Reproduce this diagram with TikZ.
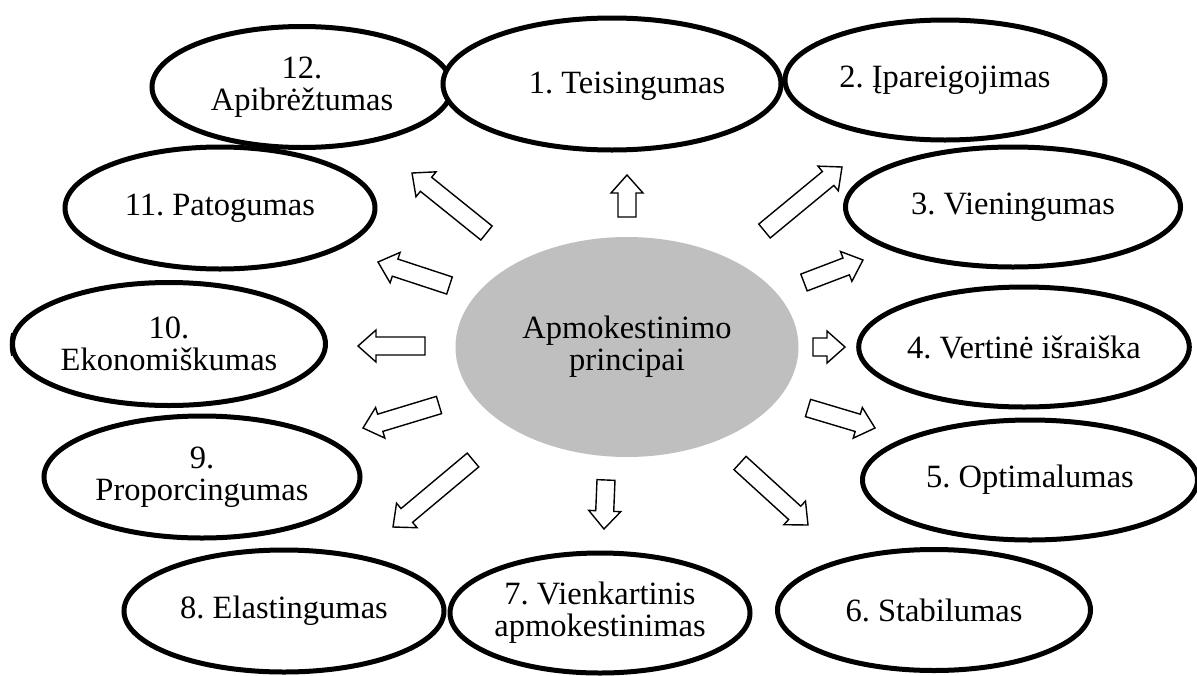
\documentclass[tikz,border=0pt]{standalone}
\usepackage{fontspec}
\setmainfont{Liberation Serif}
\usetikzlibrary{shapes.geometric,calc}

\definecolor{hubgray}{RGB}{191,191,191}

\tikzset{
  labelfont/.style={font=\fontsize{32.5}{32}\selectfont\frenchspacing},
  principle/.style={ellipse, draw=black, line width=5pt, fill=white,
    inner sep=0pt, align=center, labelfont},
  hub/.style={ellipse, fill=hubgray, draw=none, inner sep=0pt,
    align=center, labelfont},
  plain/.style={inner sep=0pt, align=center, labelfont},
  arrowline/.style={draw=black, line width=1.4pt, fill=white, line join=miter}
}

% hollow block arrow from tail coordinate #1 to tip coordinate #2
\newcommand\blockarrow[2]{%
  \coordinate (hb) at ($(#2)!18pt!(#1)$);
  \path[arrowline]
    ($(#1)!9pt!90:(#2)$) -- ($(hb)!9pt!90:(#2)$) -- ($(hb)!16pt!90:(#2)$)
    -- (#2)
    -- ($(hb)!16pt!-90:(#2)$) -- ($(hb)!9pt!-90:(#2)$) -- ($(#1)!9pt!-90:(#2)$)
    -- cycle;
}

\begin{document}
\begin{tikzpicture}[x=1pt,y=-1pt]
\useasboundingbox (0,0) rectangle (1197,675);

% principles around the hub
\node[principle, minimum width=300pt, minimum height=121pt] (p12) at (302,87) {12.\\Apibrėžtumas};
\node[principle, minimum width=338pt, minimum height=132pt] (p1) at (612,84) {};
\node[plain] (p1t) at (627,86) {1. Teisingumas};
\node[principle, minimum width=320pt, minimum height=120pt] (p2) at (945,80) {2. Įpareigojimas};
\node[principle, minimum width=335pt, minimum height=120pt] (p3) at (1013,207) {3. Vieningumas};
\node[principle, minimum width=330pt, minimum height=120pt] (p4) at (1024,347) {4. Vertinė išraiška};
\node[principle, minimum width=335pt, minimum height=120pt] (p5) at (1030,480) {5. Optimalumas};
\node[principle, minimum width=313pt, minimum height=121pt] (p6) at (934,610) {6. Stabilumas};
\node[principle, minimum width=300pt, minimum height=120pt] (p7) at (600,613) {7. Vienkartinis\\apmokestinimas};
\node[principle, minimum width=320pt, minimum height=122pt] (p8) at (284,611) {8. Elastingumas};
\node[principle, minimum width=316pt, minimum height=122pt] (p9) at (202,477) {9.\\Proporcingumas};
\draw[line width=1.5pt] (12,333) .. controls (10,340) and (10,349) .. (12,356);
\node[principle, minimum width=313pt, minimum height=123pt] (p10) at (169,344) {10.\\Ekonomiškumas};
\node[principle, minimum width=310pt, minimum height=122pt] (p11) at (220,208) {11. Patogumas};

% central hub
\node[hub, minimum width=343pt, minimum height=220pt] (hub) at (627,347) {Apmokestinimo\\principai};

% arrow tails and tips
\coordinate (t1) at (627,217);   \coordinate (h1) at (627,175);
\coordinate (t2) at (764.5,231); \coordinate (h2) at (842,167);
\coordinate (t3) at (804,282.5); \coordinate (h3) at (863,260);
\coordinate (t4) at (813,347);   \coordinate (h4) at (845,347);
\coordinate (t5) at (808,408);   \coordinate (h5) at (875,428);
\coordinate (t6) at (740,463);   \coordinate (h6) at (808,525);
\coordinate (t7) at (606,480);   \coordinate (h7) at (604,529);
\coordinate (t8) at (473,460);   \coordinate (h8) at (393,527);
\coordinate (t9) at (439,405);   \coordinate (h9) at (363,428);
\coordinate (t10) at (425,346);  \coordinate (h10) at (358,346);
\coordinate (t11) at (449.5,285.5); \coordinate (h11) at (378,262);
\coordinate (t12) at (486.5,233); \coordinate (h12) at (412,173);

\foreach \i in {1,...,12}{\blockarrow{t\i}{h\i}}
\end{tikzpicture}
\end{document}
